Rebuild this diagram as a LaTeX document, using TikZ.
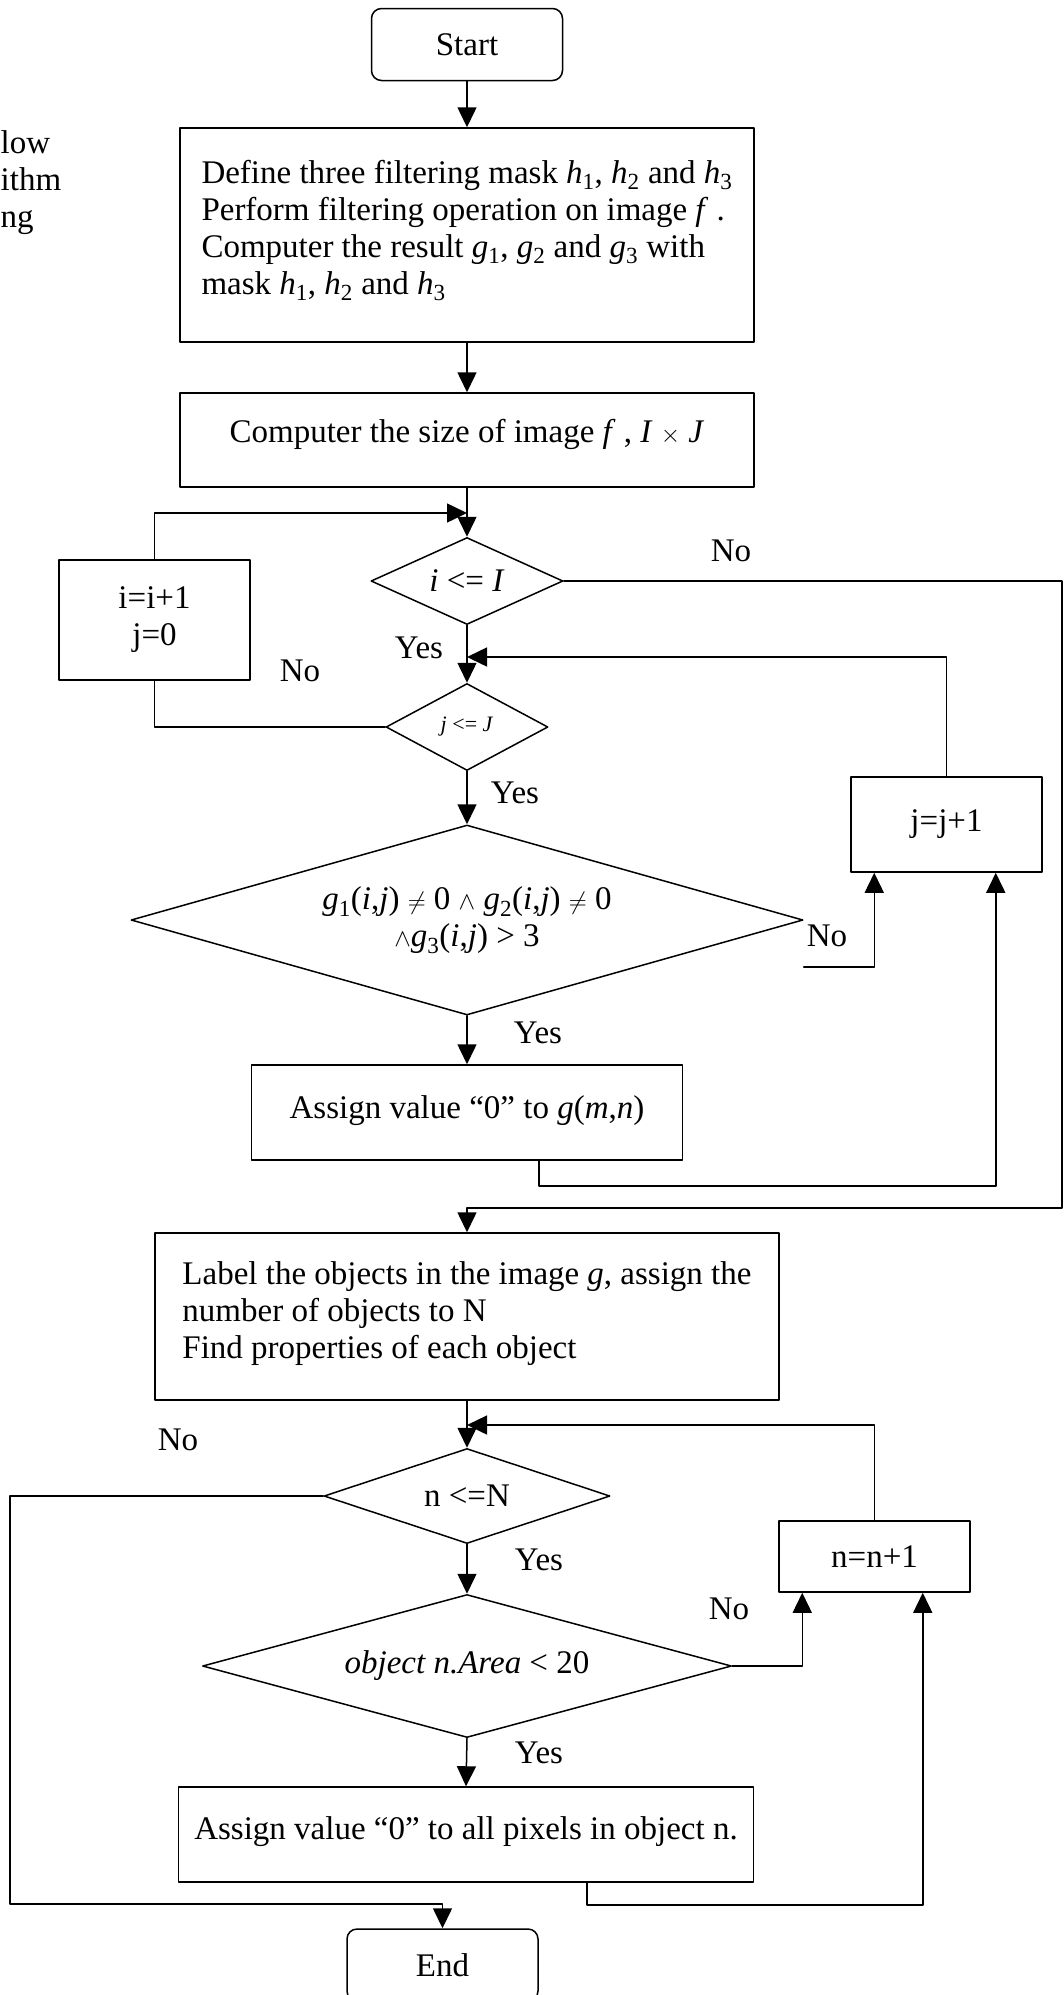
\documentclass[tikz,border=0pt]{standalone}
\usepackage{fontspec}
\setmainfont{Liberation Serif}
\usepackage{tikz}
\usetikzlibrary{arrows.meta}
\usetikzlibrary{shapes.geometric}
\usetikzlibrary{calc}

\newcommand{\mi}[1]{\textit{#1}}
\newcommand{\ms}[2]{\textit{#1}\textsubscript{#2}}
\newcommand{\lift}[1]{\rule[-#1]{0pt}{#1}}

\begin{document}
\begin{tikzpicture}[line cap=round,line join=round,>={Triangle[length=20pt,width=19pt]},x=1pt,y=-1pt,line width=1.5pt,
  every node/.style={font=\fontsize{33}{37}\selectfont},
  box/.style={draw,inner sep=0pt},
  term/.style={box,rounded corners=10pt,minimum width=191pt,minimum height=72pt},
  test/.style={draw,diamond,inner sep=0pt}]
\useasboundingbox (0,0) rectangle (1064,1995);
\clip (0,0) rectangle (1064,1995);
% cut off caption at the left
\foreach \t/\yy in {low/153,ithm/190,ng/227}
\node[anchor=base west,inner sep=0pt] (frag\yy) at (0,\yy) {\t};
% first part: filtering
\node[term] (start) at (467,44.5) {Start};
\node[box,minimum width=574pt,minimum height=214pt,align=left] (define) at (467,235) {Define three filtering mask \ms{h}{1}, \ms{h}{2} and \ms{h}{3}\\
Perform filtering operation on image \mi{f} .\\
Computer the result \ms{g}{1}, \ms{g}{2} and \ms{g}{3} with\\
mask \ms{h}{1}, \ms{h}{2} and \ms{h}{3}\lift{16pt}};
\node[box,minimum width=574pt,minimum height=94pt] (size) at (467,440) {Computer the size of image \mi{f} , \mi{I} $\times$ \mi{J}\lift{18pt}};
\node[test,minimum width=192pt,minimum height=87pt,aspect=2.2] (ci) at (467,581) {\mi{i} <= \mi{I}};
\node[box,minimum width=191pt,minimum height=120pt,align=center] (inci) at (154.5,620) {i=i+1\\j=0};
\node[test,minimum width=162pt,minimum height=87pt,aspect=1.9,font=\fontsize{22}{26}\selectfont] (cj) at (467,727) {\mi{j} <= \mi{J}};
\node[test,minimum width=672pt,minimum height=190pt,aspect=3.5,align=center] (cond) at (467,920) {\ms{g}{1}(\mi{i},\mi{j}) $\neq$ 0 $\wedge$ \ms{g}{2}(\mi{i},\mi{j}) $\neq$ 0\\
$\wedge$\ms{g}{3}(\mi{i},\mi{j}) > 3};
\node[box,minimum width=191pt,minimum height=95pt] (incj) at (946.5,824.5) {j=j+1};
\node[box,minimum width=431pt,minimum height=95pt] (assign) at (467,1112.5) {Assign value “0” to \mi{g}(\mi{m},\mi{n})\lift{10pt}};
% second part: objects
\node[box,minimum width=624pt,minimum height=167pt,align=left] (label) at (467,1316.5) {Label the objects in the image \mi{g}, assign the\\
number of objects to N\\
Find properties of each object\lift{12pt}};
\node[test,minimum width=286pt,minimum height=95pt,aspect=3] (cn) at (467,1496) {n <=N};
\node[box,minimum width=191pt,minimum height=71pt] (incn) at (874.5,1556.5) {n=n+1};
\node[test,minimum width=529pt,minimum height=143pt,aspect=3.7] (carea) at (467,1666) {\mi{object n.Area} < 20};
\node[box,minimum width=575pt,minimum height=95pt] (clear) at (466,1834.5) {Assign value “0” to all pixels in object n.\lift{12pt}};
\node[term] (stop) at (442.5,1965) {End};
% helper points
\coordinate (mi) at (467,513);
\coordinate (mj) at (467,657);
\coordinate (mn) at (467,1425);
\coordinate (edge) at (1062,1208);
\coordinate (lft) at (10,1904);
% connectors
\draw[->] (start) -- (define);
\draw[->] (define) -- (size);
\draw[->] (size) -- (ci);
\draw[->] (inci.north) |- (mi);
\draw (cj.west) -| (inci.south);
\draw[->] (ci.east) -| (edge) -- (label.north |- edge) -- (label.north);
\draw[->] (ci.south) -- (cj.north);
\draw[->] (incj.north) |- (mj);
\draw[->] (cj.south) -- (cond.north);
\draw[->] (cond.south) -- (assign.north);
\draw[->] ($(cond.east)+(0,47)$) -| ($(incj.south west)+(24,0)$);
\draw[->] ($(assign.south)+(72,0)$) -- ++(0,25) -| ($(incj.south east)+(-47,0)$);
\draw[->] (label.south) -- (cn.north);
\draw[->] (incn.north) |- (mn);
\draw[->] (cn.south) -- (carea.north);
\draw[->] (carea.east) -| ($(incn.south west)+(24,0)$);
\draw[->] (carea.south) -- (clear.north);
\draw[->] ($(clear.south)+(121,0)$) -- ++(0,22) -| ($(incn.south east)+(-48,0)$);
\draw[->] (cn.west) -| (lft) -- (stop.north |- lft) -- (stop.north);
% branch labels
\node (noi) at (731,551) {No};
\node (yesi) at (419,648) {Yes};
\node (noj) at (300,671) {No};
\node (yesj) at (515,793) {Yes};
\node (nocond) at (827,936) {No};
\node (yescond) at (538,1033) {Yes};
\node (non) at (178,1440) {No};
\node (yesn) at (539,1560) {Yes};
\node (noarea) at (729,1609) {No};
\node (yesarea) at (539,1753) {Yes};
\end{tikzpicture}
\end{document}
